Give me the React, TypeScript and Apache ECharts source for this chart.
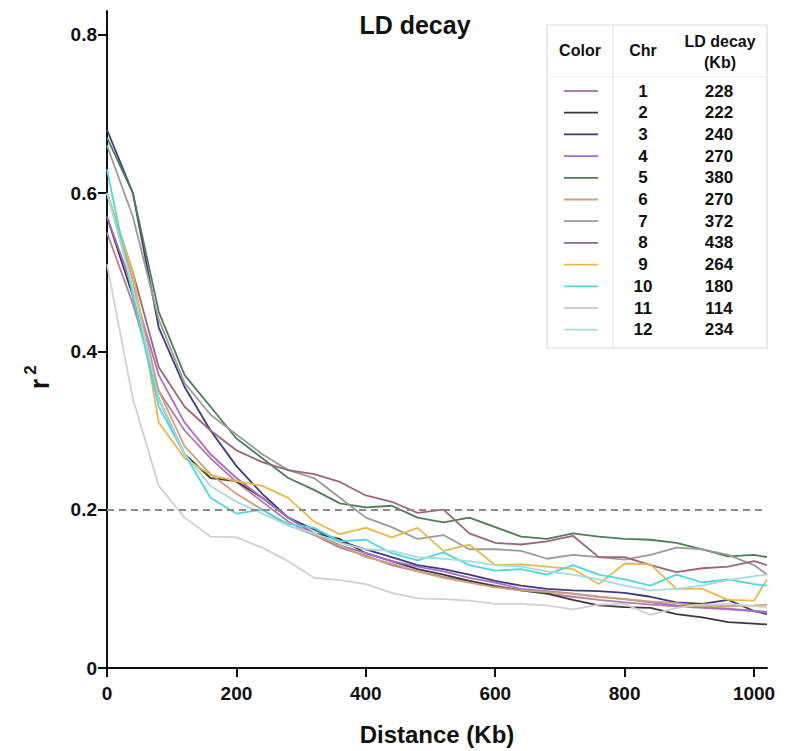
import React, { useEffect, useRef } from "react";
import * as echarts from "echarts";

const distances = [0, 40, 80, 120, 160, 200, 240, 280, 320, 360, 400, 440, 480, 520, 560, 600, 640, 680, 720, 760, 800, 840, 880, 920, 960, 1000, 1020];

const chromosomes = ["1", "2", "3", "4", "5", "6", "7", "8", "9", "10", "11", "12"];
const decayKb = ["228", "222", "240", "270", "380", "270", "372", "438", "264", "180", "114", "234"];
const lineColors = ["#b27f9b", "#3a3a3a", "#3d3c7a", "#a96bcc", "#4b7e55", "#c9a27a", "#9b9b9b", "#9c6677", "#e9b84c", "#4fd7e0", "#d0d0d0", "#a7dae0"];

const chr1 = [0.55, 0.46, 0.35, 0.3, 0.265, 0.235, 0.21, 0.185, 0.168, 0.152, 0.142, 0.13, 0.122, 0.115, 0.11, 0.104, 0.098, 0.094, 0.09, 0.086, 0.083, 0.08, 0.078, 0.076, 0.074, 0.072, 0.071];
const chr2 = [0.57, 0.47, 0.34, 0.27, 0.24, 0.236, 0.215, 0.19, 0.17, 0.163, 0.145, 0.135, 0.125, 0.118, 0.11, 0.103, 0.098, 0.094, 0.086, 0.079, 0.077, 0.076, 0.068, 0.064, 0.058, 0.056, 0.055];
const chr3 = [0.68, 0.6, 0.43, 0.355, 0.3, 0.255, 0.22, 0.19, 0.175, 0.16, 0.15, 0.14, 0.13, 0.125, 0.118, 0.11, 0.104, 0.1, 0.098, 0.097, 0.095, 0.09, 0.083, 0.081, 0.086, 0.072, 0.068];
const chr4 = [0.57, 0.48, 0.37, 0.31, 0.27, 0.24, 0.215, 0.19, 0.17, 0.155, 0.145, 0.135, 0.128, 0.122, 0.114, 0.108, 0.1, 0.097, 0.094, 0.09, 0.087, 0.083, 0.079, 0.077, 0.075, 0.072, 0.07];
const chr5 = [0.67, 0.6, 0.45, 0.37, 0.33, 0.29, 0.265, 0.24, 0.225, 0.208, 0.203, 0.205, 0.19, 0.184, 0.19, 0.178, 0.166, 0.163, 0.17, 0.166, 0.163, 0.162, 0.158, 0.15, 0.141, 0.143, 0.14];
const chr6 = [0.6, 0.49, 0.35, 0.28, 0.245, 0.22, 0.2, 0.18, 0.168, 0.155, 0.14, 0.132, 0.122, 0.114, 0.108, 0.102, 0.098, 0.096, 0.094, 0.09, 0.087, 0.084, 0.082, 0.078, 0.078, 0.079, 0.08];
const chr7 = [0.66, 0.57, 0.44, 0.36, 0.32, 0.295, 0.27, 0.25, 0.24, 0.215, 0.19, 0.178, 0.163, 0.168, 0.15, 0.15, 0.148, 0.138, 0.143, 0.14, 0.137, 0.143, 0.152, 0.15, 0.143, 0.13, 0.118];
const chr8 = [0.6, 0.5, 0.38, 0.33, 0.3, 0.275, 0.26, 0.25, 0.245, 0.235, 0.218, 0.21, 0.196, 0.2, 0.17, 0.158, 0.156, 0.16, 0.167, 0.14, 0.14, 0.13, 0.121, 0.126, 0.128, 0.135, 0.13];
const chr9 = [0.6, 0.5, 0.31, 0.265, 0.244, 0.236, 0.23, 0.215, 0.185, 0.169, 0.177, 0.165, 0.177, 0.148, 0.156, 0.13, 0.131, 0.128, 0.125, 0.106, 0.132, 0.131, 0.1, 0.1, 0.086, 0.085, 0.112];
const chr10 = [0.63, 0.47, 0.33, 0.27, 0.215, 0.195, 0.2, 0.182, 0.177, 0.16, 0.162, 0.145, 0.136, 0.146, 0.13, 0.123, 0.125, 0.118, 0.13, 0.118, 0.112, 0.104, 0.118, 0.108, 0.112, 0.106, 0.104];
const chr11 = [0.51, 0.34, 0.23, 0.19, 0.166, 0.165, 0.152, 0.135, 0.114, 0.111, 0.106, 0.095, 0.088, 0.087, 0.085, 0.081, 0.081, 0.079, 0.074, 0.08, 0.081, 0.067, 0.076, 0.08, 0.081, 0.078, 0.077];
const chr12 = [0.6, 0.48, 0.34, 0.27, 0.23, 0.21, 0.195, 0.18, 0.17, 0.158, 0.15, 0.148, 0.14, 0.138, 0.135, 0.13, 0.128, 0.122, 0.118, 0.112, 0.104, 0.098, 0.1, 0.104, 0.111, 0.116, 0.118];

const seriesValues = [chr1, chr2, chr3, chr4, chr5, chr6, chr7, chr8, chr9, chr10, chr11, chr12];

const xTicks = [0, 200, 400, 600, 800, 1000];
const yTicks = [0, 0.2, 0.4, 0.6, 0.8];
const threshold = 0.2;

const FONT = '"Liberation Sans", Arial, Helvetica, sans-serif';

export default function App() {
  const ref = useRef<HTMLDivElement>(null);

  useEffect(() => {
    if (!ref.current) return;
    const chart = echarts.init(ref.current, null, { renderer: "svg" });

    const series: any[] = seriesValues.map((vals, i) => ({
      name: chromosomes[i],
      type: "line",
      data: distances.map((d, j) => [d, vals[j]]),
      showSymbol: false,
      symbol: "none",
      lineStyle: { color: lineColors[i], width: 1.8 },
      itemStyle: { color: lineColors[i] },
      z: 3,
    }));

    series.push({
      name: "threshold",
      type: "line",
      data: [],
      markLine: {
        silent: true,
        symbol: "none",
        label: { show: false },
        lineStyle: { color: "#8a8a8a", width: 2, type: [7, 5] },
        data: [{ yAxis: threshold }],
      },
    });

    const rowTop = 91;
    const rowStep = 21.7;
    const tableEls: any[] = [
      {
        type: "rect",
        shape: { x: 547, y: 25, width: 220, height: 323 },
        style: { fill: "#fff", stroke: "#d9d9d9", lineWidth: 1.2 },
      },
      {
        type: "line",
        shape: { x1: 613, y1: 25, x2: 613, y2: 348 },
        style: { stroke: "#e2e2e2", lineWidth: 1 },
      },
      {
        type: "line",
        shape: { x1: 547, y1: 77, x2: 767, y2: 77 },
        style: { stroke: "#ececec", lineWidth: 1 },
      },
      {
        type: "text",
        x: 580,
        y: 50,
        style: { text: "Color", fill: "#111", font: `bold 16px ${FONT}`, align: "center", verticalAlign: "middle" },
      },
      {
        type: "text",
        x: 643,
        y: 50,
        style: { text: "Chr", fill: "#111", font: `bold 16px ${FONT}`, align: "center", verticalAlign: "middle" },
      },
      {
        type: "text",
        x: 720,
        y: 41,
        style: { text: "LD decay", fill: "#111", font: `bold 16px ${FONT}`, align: "center", verticalAlign: "middle" },
      },
      {
        type: "text",
        x: 720,
        y: 62,
        style: { text: "(Kb)", fill: "#111", font: `bold 16px ${FONT}`, align: "center", verticalAlign: "middle" },
      },
    ];
    chromosomes.forEach((c, i) => {
      const y = rowTop + i * rowStep;
      tableEls.push({
        type: "line",
        shape: { x1: 564, y1: y, x2: 598, y2: y },
        style: { stroke: lineColors[i], lineWidth: 1.8 },
      });
      tableEls.push({
        type: "text",
        x: 643,
        y,
        style: { text: c, fill: "#111", font: `bold 17px ${FONT}`, align: "center", verticalAlign: "middle" },
      });
      tableEls.push({
        type: "text",
        x: 719,
        y,
        style: { text: decayKb[i], fill: "#111", font: `bold 17px ${FONT}`, align: "center", verticalAlign: "middle" },
      });
    });

    const option: any = {
      animation: false,
      backgroundColor: "#ffffff",
      title: {
        text: "LD decay",
        left: 410,
        top: 7,
        textAlign: "center",
        textStyle: { fontFamily: FONT, fontWeight: "bold", fontSize: 25, color: "#111" },
      },
      grid: { left: 107, right: 20, top: 11, bottom: 80, containLabel: false },
      xAxis: {
        type: "value",
        min: 0,
        max: 1020,
        name: "Distance (Kb)",
        nameLocation: "middle",
        nameGap: 54,
        nameTextStyle: { fontFamily: FONT, fontWeight: "bold", fontSize: 24, color: "#111" },
        axisLine: { show: true, onZero: false, lineStyle: { color: "#111", width: 2 } },
        axisTick: { show: true, length: 9, customValues: xTicks, lineStyle: { color: "#111", width: 2 } },
        axisLabel: {
          customValues: xTicks,
          formatter: (v: number) => String(v),
          fontFamily: FONT,
          fontWeight: "bold",
          fontSize: 19,
          color: "#111",
          margin: 16,
        },
        splitLine: { show: false },
      },
      yAxis: {
        type: "value",
        min: 0,
        max: 0.83,
        axisLine: { show: true, onZero: false, lineStyle: { color: "#111", width: 2 } },
        axisTick: { show: true, length: 9, customValues: yTicks, lineStyle: { color: "#111", width: 2 } },
        axisLabel: {
          customValues: yTicks,
          formatter: (v: number) => (v === 0 ? "0" : v.toFixed(1)),
          fontFamily: FONT,
          fontWeight: "bold",
          fontSize: 19,
          color: "#111",
          margin: 10,
        },
        splitLine: { show: false },
      },
      graphic: [
        {
          type: "group",
          z: 100,
          children: tableEls,
        },
        {
          type: "text",
          x: 40,
          y: 384,
          rotation: Math.PI / 2,
          style: { text: "r", fill: "#111", font: `bold 27px ${FONT}`, align: "center", verticalAlign: "middle" },
        },
        {
          type: "text",
          x: 30,
          y: 370,
          rotation: Math.PI / 2,
          style: { text: "2", fill: "#111", font: `bold 17px ${FONT}`, align: "center", verticalAlign: "middle" },
        },
      ],
      series,
    };

    chart.setOption(option);
    return () => {
      chart.dispose();
    };
  }, []);

  return (
    <div
      ref={ref}
      style={{ position: "fixed", left: 0, top: 0, width: 787, height: 751, background: "#fff" }}
    />
  );
}
